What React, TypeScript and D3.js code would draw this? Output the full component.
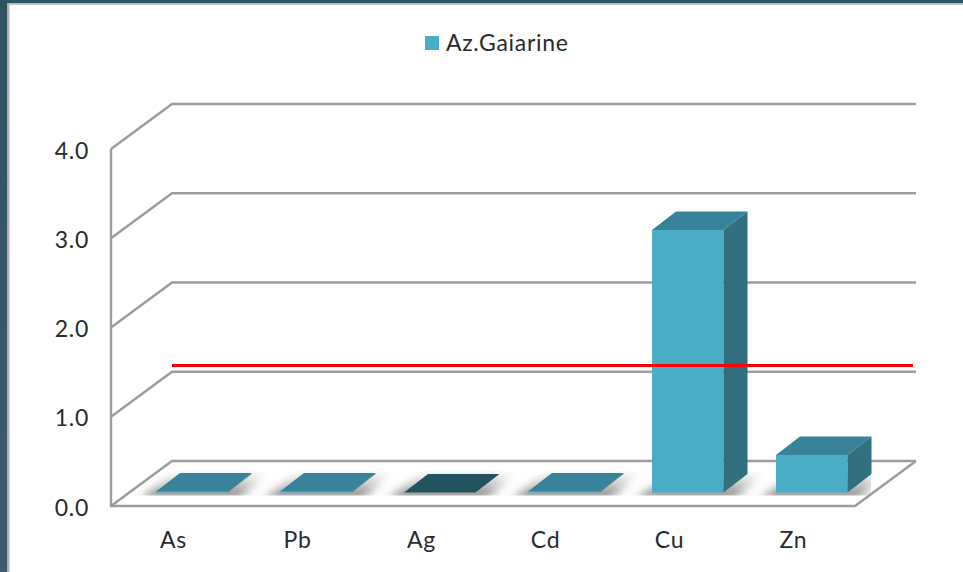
import React from "react";
import * as d3 from "d3";

const categories = ["As", "Pb", "Ag", "Cd", "Cu", "Zn"];
const seriesName = "Az.Gaiarine";
const values = [0.01, 0.01, 0, 0.01, 2.94, 0.42];
const yTicks = [0, 1, 2, 3, 4];
const thresholdValue = 1.07;

const W = 963;
const H = 572;
const FONT = "Lato, Carlito, 'Open Sans', sans-serif";
const GRID = "#9d9d9d";
const FRONT = "#4bacc6";
const TOP = "#37829a";
const SIDE = "#306f80";
const ZERO_TOP = "#23525f";
const TEXT = "#2a2a2a";

const x = d3.scaleBand<string>().domain(categories).range([111, 855]);
const y = d3.scaleLinear().domain([0, 4]).range([506, 149]);
const DEPTH_X = 61;
const DEPTH_Y = 45;
const BAR_PAD_X = 45;
const BAR_PAD_Y = 13.5;
const BAR_W = 71.5;
const BAR_DX = 24;
const BAR_DY = 18.5;

const poly = (pts: [number, number][]) => d3.line()(pts) + "Z";

export default function App() {
  const gridPath = (v: number) =>
    d3.line()([
      [x.range()[0], y(v)],
      [x.range()[0] + DEPTH_X, y(v) - DEPTH_Y],
      [x.range()[1] + DEPTH_X, y(v) - DEPTH_Y],
    ]);
  return (
    <svg
      width={W}
      height={H}
      viewBox={`0 0 ${W} ${H}`}
      style={{ position: "fixed", left: 0, top: 0, display: "block", background: "#fff" }}
    >
      <defs>
        <filter id="soft" x="-5%" y="-5%" width="110%" height="110%">
          <feGaussianBlur stdDeviation="0.5" />
        </filter>
        <filter id="shadowBlur" filterUnits="userSpaceOnUse" x="100" y="440" width="800" height="80">
          <feGaussianBlur stdDeviation="6 3" />
        </filter>
        <linearGradient id="shadowFade" x1="0" y1="0" x2="0" y2="1">
          <stop offset="0" stopColor="#b5b5b5" stopOpacity="0.15" />
          <stop offset="0.55" stopColor="#a0a0a0" stopOpacity="0.7" />
          <stop offset="1" stopColor="#808080" stopOpacity="1" />
        </linearGradient>
        <clipPath id="floorClip">
          <rect x={111} y={471} width={760} height={24.5} />
        </clipPath>
        <linearGradient id="frame" x1="0" y1="0" x2="0" y2="1">
          <stop offset="0" stopColor="#2e5361" />
          <stop offset="1" stopColor="#3f5a70" />
        </linearGradient>
      </defs>

      <rect x={0} y={0} width={W} height={H} fill="#fff" />
      <rect x={0} y={0} width={7.5} height={H} fill="url(#frame)" />
      <rect x={7.5} y={3.5} width={2} height={H} fill="#b4b4b4" />
      <rect x={0} y={0} width={W} height={3.2} fill="#2e5361" />
      <rect x={7.5} y={3.2} width={W} height={1.6} fill="#b4b4b4" />

      <g filter="url(#soft)">
        {yTicks.map((t) => (
          <path key={t} d={gridPath(t) ?? ""} fill="none" stroke={GRID} strokeWidth={2.4} />
        ))}
        <path
          d={
            d3.line()([
              [x.range()[0], y(4)],
              [x.range()[0], y(0)],
              [x.range()[1], y(0)],
              [x.range()[1] + DEPTH_X, y(0) - DEPTH_Y],
            ]) ?? ""
          }
          fill="none"
          stroke={GRID}
          strokeWidth={2.4}
        />
      </g>

      <g clipPath="url(#floorClip)">
        {categories.map((c) => {
          const x0 = (x(c) ?? 0) + BAR_PAD_X;
          const y0 = y(0) - BAR_PAD_Y;
          return (
            <path
              key={c}
              filter="url(#shadowBlur)"
              fill="url(#shadowFade)"
              d={poly([
                [x0 - 14, y0 + 5],
                [x0 + BAR_W + 14, y0 + 5],
                [x0 + BAR_W + BAR_DX + 12, y0 - BAR_DY - 1],
                [x0 + BAR_DX - 8, y0 - BAR_DY - 1],
              ])}
            />
          );
        })}
      </g>

      <g filter="url(#soft)">
        {categories.map((c, i) => {
          const v = values[i];
          const x0 = (x(c) ?? 0) + BAR_PAD_X;
          const base = y(0) - BAR_PAD_Y;
          const top = base - (y(0) - y(v));
          const topFill = v === 0 ? ZERO_TOP : TOP;
          return (
            <g key={c}>
              <path d={poly([[x0, base], [x0 + BAR_W, base], [x0 + BAR_W, top], [x0, top]])} fill={FRONT} />
              <path
                d={poly([
                  [x0 + BAR_W, base],
                  [x0 + BAR_W + BAR_DX, base - BAR_DY],
                  [x0 + BAR_W + BAR_DX, top - BAR_DY],
                  [x0 + BAR_W, top],
                ])}
                fill={SIDE}
              />
              <path
                d={poly([
                  [x0, top],
                  [x0 + BAR_W, top],
                  [x0 + BAR_W + BAR_DX, top - BAR_DY],
                  [x0 + BAR_DX, top - BAR_DY],
                ])}
                fill={topFill}
              />
            </g>
          );
        })}
      </g>

      <line
        x1={x.range()[0] + DEPTH_X}
        x2={913}
        y1={y(thresholdValue) - DEPTH_Y}
        y2={y(thresholdValue) - DEPTH_Y}
        stroke="#fa0006"
        strokeWidth={2.8}
      />

      <g fontFamily={FONT} fontSize={23} fill={TEXT} letterSpacing={0.7}>
        {yTicks.map((t) => (
          <text key={t} x={89} y={y(t) + 0.5} textAnchor="end" dominantBaseline="central">
            {d3.format(".1f")(t)}
          </text>
        ))}
        {categories.map((c) => (
          <text key={c} x={(x(c) ?? 0) + x.bandwidth() / 2 + 0.5} y={548} textAnchor="middle">
            {c}
          </text>
        ))}
        <rect x={425} y={36} width={14} height={14} fill={FRONT} />
        <text x={446} y={51}>
          {seriesName}
        </text>
      </g>
    </svg>
  );
}
